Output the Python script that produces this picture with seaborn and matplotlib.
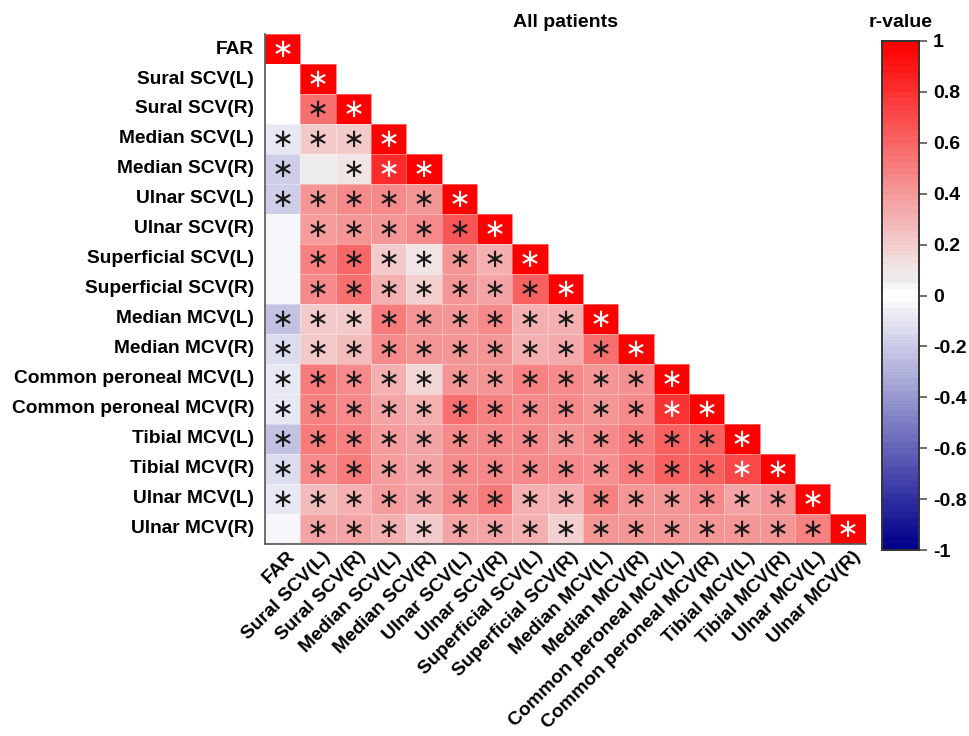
import numpy as np
import pandas as pd
import matplotlib
matplotlib.use("Agg")
import matplotlib.pyplot as plt
import matplotlib.transforms as mtransforms
from matplotlib.colors import LinearSegmentedColormap, ListedColormap
from matplotlib.textpath import TextPath
from matplotlib.font_manager import FontProperties
import seaborn as sns

labels = ["FAR", "Sural SCV(L)", "Sural SCV(R)", "Median SCV(L)", "Median SCV(R)",
          "Ulnar SCV(L)", "Ulnar SCV(R)", "Superficial SCV(L)", "Superficial SCV(R)",
          "Median MCV(L)", "Median MCV(R)", "Common peroneal MCV(L)",
          "Common peroneal MCV(R)", "Tibial MCV(L)", "Tibial MCV(R)",
          "Ulnar MCV(L)", "Ulnar MCV(R)"]

# lower-triangular r-values, row by row
r_rows = [
    [1],
    [0.0, 1],
    [0.0, 0.55, 1],
    [-0.10, 0.20, 0.22, 1],
    [-0.18, 0.05, 0.10, 0.80, 1],
    [-0.20, 0.42, 0.45, 0.45, 0.40, 1],
    [-0.05, 0.38, 0.40, 0.42, 0.45, 0.65, 1],
    [-0.05, 0.48, 0.58, 0.20, 0.10, 0.42, 0.32, 1],
    [-0.04, 0.45, 0.55, 0.30, 0.18, 0.42, 0.35, 0.62, 1],
    [-0.23, 0.22, 0.20, 0.50, 0.42, 0.42, 0.45, 0.30, 0.32, 1],
    [-0.15, 0.22, 0.25, 0.45, 0.42, 0.40, 0.42, 0.30, 0.33, 0.55, 1],
    [-0.08, 0.52, 0.45, 0.32, 0.15, 0.42, 0.42, 0.48, 0.45, 0.40, 0.43, 1],
    [-0.10, 0.48, 0.45, 0.35, 0.30, 0.55, 0.48, 0.45, 0.45, 0.42, 0.45, 0.78, 1],
    [-0.25, 0.50, 0.48, 0.38, 0.35, 0.45, 0.45, 0.45, 0.42, 0.45, 0.50, 0.60, 0.62, 1],
    [-0.15, 0.45, 0.50, 0.38, 0.35, 0.45, 0.45, 0.45, 0.45, 0.43, 0.50, 0.60, 0.62, 0.72, 1],
    [-0.10, 0.25, 0.30, 0.38, 0.35, 0.45, 0.50, 0.30, 0.30, 0.48, 0.40, 0.42, 0.45, 0.35, 0.40, 1],
    [-0.05, 0.35, 0.35, 0.32, 0.20, 0.35, 0.35, 0.30, 0.18, 0.42, 0.40, 0.42, 0.42, 0.40, 0.42, 0.48, 1],
]

# cells without significance mark (row, col)
not_significant = [(1, 0), (2, 0), (4, 1), (6, 0), (7, 0), (8, 0), (16, 0)]

cbar_ticks = [-1, -0.8, -0.6, -0.4, -0.2, 0, 0.2, 0.4, 0.6, 0.8, 1]
cbar_ticklabels = ["-1", "-0.8", "-0.6", "-0.4", "-0.2", "0", "0.2", "0.4", "0.6", "0.8", "1"]

n = len(labels)
mat = np.full((n, n), np.nan)
for i, row in enumerate(r_rows):
    mat[i, :len(row)] = row
df = pd.DataFrame(mat, index=labels, columns=labels)
mask = np.isnan(mat)

base = LinearSegmentedColormap.from_list(
    "rv", [(0.0, "#00008B"), (0.5, "#FFFFFF"), (0.51, "#FFFFFF"), (0.525, "#EDEDED"),
           (0.55, "#F0E8E8"), (1.0, "#FF0000")])
cmap = ListedColormap(base(np.linspace(0, 1, 80)))

sns.set_style("white")
plt.rcParams["font.family"] = ["Liberation Sans", "DejaVu Sans"]
plt.rcParams["font.weight"] = "bold"
plt.rcParams["text.color"] = "black"
plt.rcParams["xtick.color"] = "black"
plt.rcParams["ytick.color"] = "black"
plt.rcParams["axes.labelcolor"] = "black"

fig = plt.figure(figsize=(9.69, 7.36), dpi=100)
ax = fig.add_axes([0.2735, 0.2609, 0.620, 0.6929])
cax = fig.add_axes([0.9102, 0.2527, 0.0382, 0.6916])

sns.heatmap(df, mask=mask, cmap=cmap, vmin=-1, vmax=1, ax=ax, cbar_ax=cax,
            square=False, linewidths=0.5, linecolor=(1, 1, 1, 0.35),
            cbar_kws={"ticks": cbar_ticks})

# significance asterisks, ink-centred in each cell
star = "\u2217"
fs_star = 19
star_prop = FontProperties(family="DejaVu Sans", weight="normal", size=fs_star)
ext = TextPath((0, 0), star, size=fs_star, prop=star_prop).get_extents()
dx = -(ext.x0 + ext.x1) / 2.0
dy = -(ext.y0 + ext.y1) / 2.0
trans = mtransforms.offset_copy(ax.transData, fig=fig, x=dx, y=dy, units="points")
for i in range(n):
    for j in range(i + 1):
        if (i, j) in not_significant:
            continue
        v = mat[i, j]
        col = "white" if v >= 0.7 else "#1a1a1a"
        ax.text(j + 0.5, i + 0.5, star, ha="left", va="baseline", color=col,
                fontproperties=star_prop, transform=trans)

ax.set_xticks(np.arange(n) + 0.5)
ax.set_yticks(np.arange(n) + 0.5)
ax.set_xticklabels(labels, rotation=45, ha="right", va="top", rotation_mode="anchor",
                   fontsize=13.8, fontweight="bold", color="black")
ax.set_yticklabels(labels, rotation=0, fontsize=13.8, fontweight="bold", color="black")
ax.tick_params(axis="y", length=0, pad=8)
ax.tick_params(axis="x", length=0, pad=3)
shift = mtransforms.ScaledTranslation(4 / 100, 0, fig.dpi_scale_trans)
for lab in ax.get_xticklabels():
    lab.set_transform(lab.get_transform() + shift)
ax.set_xlabel("")
ax.set_ylabel("")
for side in ["left", "bottom"]:
    ax.spines[side].set_visible(True)
    ax.spines[side].set_color("#555555")
    ax.spines[side].set_linewidth(1.2)
for side in ["top", "right"]:
    ax.spines[side].set_visible(False)

ax.set_title("All patients", fontsize=14, fontweight="bold", pad=5, color="black")

cax.set_yticklabels(cbar_ticklabels)
cax.tick_params(labelsize=14, length=6, width=1.2, color="#555555", labelcolor="black", pad=4)
for t in cax.get_yticklabels():
    t.set_fontweight("bold")
for sp in cax.spines.values():
    sp.set_visible(True)
    sp.set_color("#333333")
    sp.set_linewidth(1.2)
cax.set_title("r-value", fontsize=14, fontweight="bold", pad=10, color="black")

fig.savefig("out.png", dpi=100)
